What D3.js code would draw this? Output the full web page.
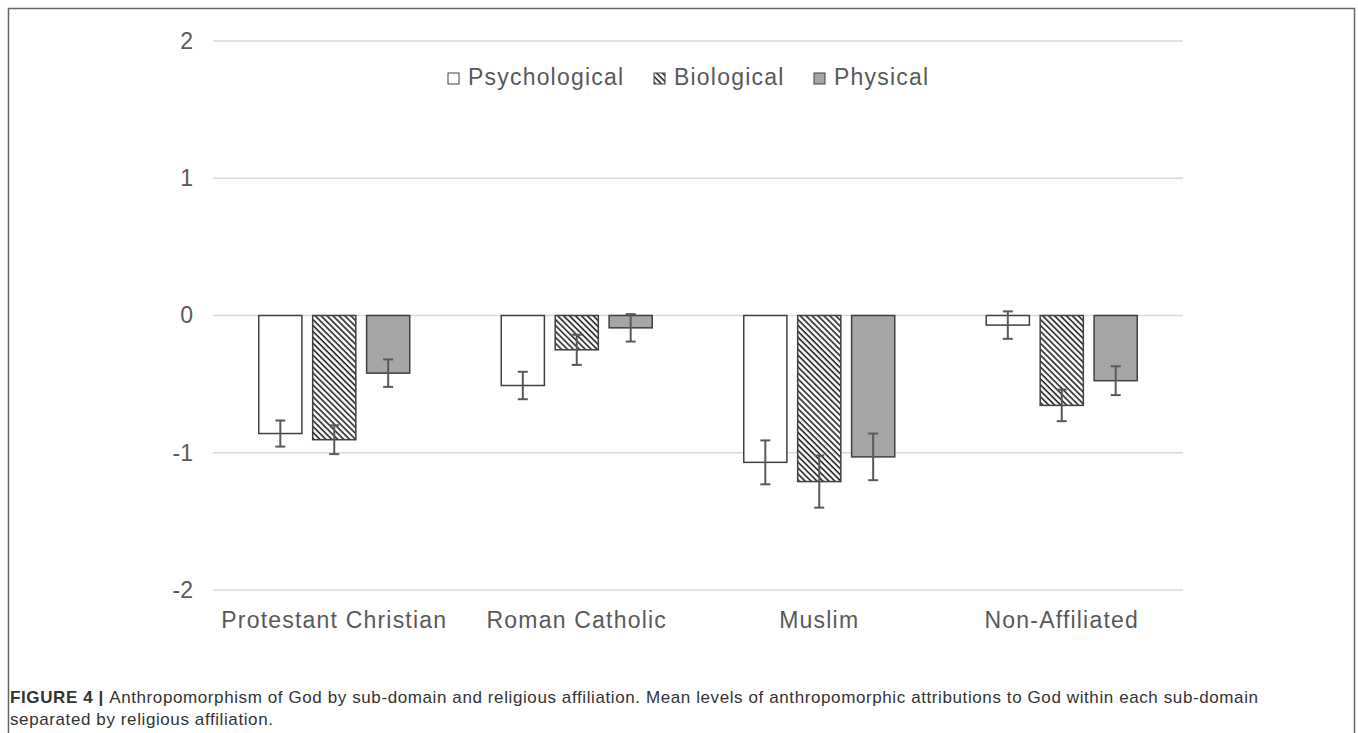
<!DOCTYPE html>
<html>
<head>
<meta charset="utf-8">
<script src="https://cdn.jsdelivr.net/npm/d3@7"></script>
<style>
  body { margin: 0; background: #fff; }
  svg { display: block; font-family: "Liberation Sans", Arial, sans-serif; }
</style>
</head>
<body>
<svg id="chart" width="1358" height="733"></svg>
<script>
// chart data
var categories = ['Protestant Christian', 'Roman Catholic', 'Muslim', 'Non-Affiliated'];
var seriesNames = ['Psychological', 'Biological', 'Physical'];
var psychological = [-0.86, -0.51, -1.07, -0.07];
var biological = [-0.905, -0.25, -1.21, -0.655];
var physical = [-0.42, -0.09, -1.03, -0.475];
var psychErr = [0.095, 0.1, 0.16, 0.1];
var bioErr = [0.105, 0.11, 0.19, 0.115];
var physErr = [0.1, 0.1, 0.17, 0.105];
var yTicks = [-2, -1, 0, 1, 2];

var values = [psychological, biological, physical];
var errors = [psychErr, bioErr, physErr];

var svg = d3.select('#chart');
var margin = {top: 41, left: 213, right: 175, bottom: 143};
var width = 1358 - margin.left - margin.right;
var height = 733 - margin.top - margin.bottom;

var defs = svg.append('defs');
var pat = defs.append('pattern')
  .attr('id', 'hatch')
  .attr('patternUnits', 'userSpaceOnUse')
  .attr('width', 4.2).attr('height', 4.2)
  .attr('patternTransform', 'rotate(-45)');
pat.append('rect').attr('width', 4.2).attr('height', 4.2).attr('fill', '#fff');
pat.append('line').attr('x1', 1).attr('y1', 0).attr('x2', 1).attr('y2', 4.2)
  .attr('stroke', '#222').attr('stroke-width', 1.6);

var fills = ['#ffffff', 'url(#hatch)', '#a6a6a6'];

// frame
svg.append('rect')
  .attr('x', 8.5).attr('y', 8.5).attr('width', 1346).attr('height', 760)
  .attr('fill', 'none').attr('stroke', '#666').attr('stroke-width', 1.5);

var g = svg.append('g').attr('transform', 'translate(' + margin.left + ',' + margin.top + ')');

var x0 = d3.scaleBand().domain(categories).range([0, width]);
var x1 = d3.scaleBand().domain(seriesNames).range([0, 151]).paddingInner(0.2);
var y = d3.scaleLinear().domain([-2, 2]).range([height, 0]);

// gridlines
g.append('g').selectAll('line')
  .data(yTicks)
  .enter().append('line')
  .attr('x1', 0).attr('x2', width)
  .attr('y1', function(d) { return y(d); })
  .attr('y2', function(d) { return y(d); })
  .attr('stroke', '#d9d9d9').attr('stroke-width', 1.5);

// y axis labels
var yAxis = g.append('g')
  .call(d3.axisLeft(y).tickValues(yTicks).tickSize(0).tickPadding(20)
    .tickFormat(function(d) { return String(d); }));
yAxis.select('.domain').remove();
yAxis.selectAll('text')
  .attr('font-size', 23).attr('fill', '#595959')
  .attr('font-family', '"Liberation Sans", Arial, sans-serif');

// x axis labels
var xAxis = g.append('g')
  .attr('transform', 'translate(0,' + height + ')')
  .call(d3.axisBottom(x0).tickSize(0).tickPadding(22));
xAxis.select('.domain').remove();
xAxis.selectAll('text')
  .attr('font-size', 23).attr('fill', '#595959')
  .attr('letter-spacing', 1.2)
  .attr('font-family', '"Liberation Sans", Arial, sans-serif');

// bars
var groups = g.selectAll('.grp')
  .data(categories)
  .enter().append('g')
  .attr('class', 'grp')
  .attr('transform', function(d) { return 'translate(' + (x0(d) + x0.bandwidth() / 2 - 75.5) + ',0)'; });

seriesNames.forEach(function(s, si) {
  groups.append('rect')
    .attr('x', x1(s))
    .attr('width', x1.bandwidth())
    .attr('y', function(d, i) { return y(Math.max(0, values[si][i])); })
    .attr('height', function(d, i) { return Math.abs(y(values[si][i]) - y(0)); })
    .attr('fill', fills[si])
    .attr('stroke', '#404040')
    .attr('stroke-width', 1.5);
});

// error bars
seriesNames.forEach(function(s, si) {
  var cx = x1(s) + x1.bandwidth() / 2;
  var eb = groups.append('g').attr('stroke', '#595959').attr('stroke-width', 2);
  eb.append('line')
    .attr('x1', cx).attr('x2', cx)
    .attr('y1', function(d, i) { return y(values[si][i] + errors[si][i]); })
    .attr('y2', function(d, i) { return y(values[si][i] - errors[si][i]); });
  [1, -1].forEach(function(sign) {
    eb.append('line')
      .attr('x1', cx - 5).attr('x2', cx + 5)
      .attr('y1', function(d, i) { return y(values[si][i] + sign * errors[si][i]); })
      .attr('y2', function(d, i) { return y(values[si][i] + sign * errors[si][i]); });
  });
});

// legend
var legendX = [448, 654, 814];
var legend = svg.append('g');
seriesNames.forEach(function(s, si) {
  legend.append('rect')
    .attr('x', legendX[si]).attr('y', 73)
    .attr('width', 11).attr('height', 11)
    .attr('fill', fills[si]).attr('stroke', '#404040').attr('stroke-width', 1);
  legend.append('text')
    .attr('x', legendX[si] + 20).attr('y', 85)
    .attr('font-size', 23).attr('fill', '#595959')
    .attr('letter-spacing', 1.2)
    .text(s);
});

// caption
var cap = svg.append('text').attr('x', 10).attr('y', 703)
  .attr('font-size', 17).attr('fill', '#333').attr('letter-spacing', 0.6);
cap.append('tspan').attr('font-weight', 'bold').text('FIGURE 4 | ');
cap.append('tspan').text('Anthropomorphism of God by sub-domain and religious affiliation. Mean levels of anthropomorphic attributions to God within each sub-domain');
svg.append('text').attr('x', 10).attr('y', 725)
  .attr('font-size', 17).attr('fill', '#333').attr('letter-spacing', 0.6)
  .text('separated by religious affiliation.');
</script>
</body>
</html>
